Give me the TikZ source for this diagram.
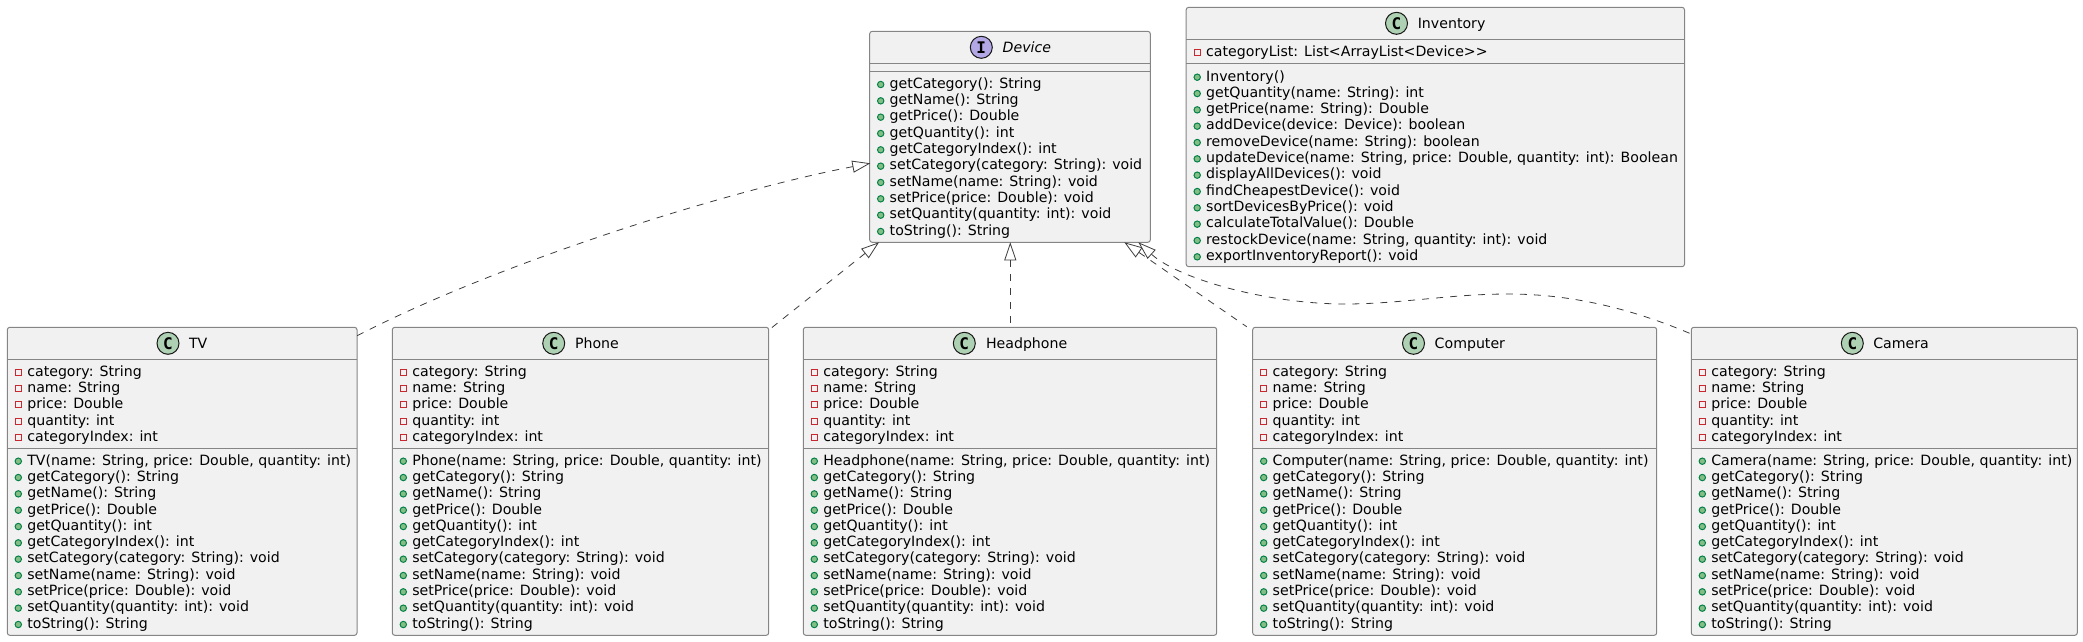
\documentclass[tikz,border=0pt]{standalone}
\usepackage{fontspec}
\setmainfont{DejaVu Sans}
\setmonofont{DejaVu Sans Mono}
\usetikzlibrary{arrows.meta}
\definecolor{boxfill}{HTML}{F1F1F1}
\definecolor{ink}{HTML}{181818}
\definecolor{rule}{HTML}{858585}
\definecolor{edge}{HTML}{3C3C3C}
\definecolor{pubfill}{HTML}{84BE84}
\definecolor{publine}{HTML}{038048}
\definecolor{privline}{HTML}{C82930}
\definecolor{spotC}{HTML}{ADD1B2}
\definecolor{spotI}{HTML}{B4A7E5}
\tikzset{
  classbox/.style={draw=rule,line width=1pt,fill=boxfill,rounded corners=2.5pt,anchor=north west,inner sep=0pt,outer sep=0pt},
  divider/.style={draw=rule,line width=1pt},
  membertext/.style={anchor=base west,inner sep=0pt,outer sep=0pt,font=\fontsize{14.15}{16}\selectfont,text=black},
  titletext/.style={membertext},
  pubmark/.style={circle,draw=publine,fill=pubfill,line width=1pt,minimum size=6.4pt,inner sep=0pt},
  privmark/.style={rectangle,draw=privline,fill=none,line width=1pt,minimum size=6pt,inner sep=0pt},
  spotnode/.style={circle,draw=ink,line width=1pt,minimum size=22pt,inner sep=0pt,font=\fontsize{16}{16}\ttfamily\bfseries\selectfont,text=black},
  realize/.style={draw=edge,line width=0.8pt,dash pattern=on 7pt off 7pt,
    {Triangle[open,length=18pt,width=12pt,fill=white,line width=0.8pt,sep=0pt]}-},
}
\newcommand{\memberlist}[5]{%
  \foreach \txt [count=\n from 0] in #5 {
    \pgfmathsetmacro\yy{#3+16.33*\n}
    \node[membertext] (#1-\n) at (#2+20,\yy) {\txt};
    \node[#4] (#1-mark-\n) at (#2+11,\yy-3.8) {};
  }%
}
\newcommand{\umlclass}[8]{% name, left, right, top, bottom, spotx, titlex, title
  \node[classbox,minimum width=#3pt-#2pt,minimum height=#5pt-#4pt] (#1) at (#2,#4) {};
  \node[spotnode,fill=spotC] (#1-spot) at (#6,#4+16) {C};
  \node[titletext] (#1-title) at (#7,#4+21) {#8};
}
\newcommand{\rowline}[2]{\draw[divider] (#1.west |- 0,#2) -- (#1.east |- 0,#2);}
\newcommand{\deviceclass}[6]{% name,left,right,spotx,titlex,title
  \umlclass{#1}{#2}{#3}{327.3}{635.3}{#4}{#5}{#6}
  \rowline{#1}{359.3}
  \rowline{#1}{448.3}
  \memberlist{#1-f}{#2}{376}{privmark}{{category: String,name: String,price: Double,quantity: int,categoryIndex: int}}
  \memberlist{#1-m}{#2}{465}{pubmark}{{{#6(name: String, price: Double, quantity: int)},getCategory(): String,getName(): String,getPrice(): Double,getQuantity(): int,getCategoryIndex(): int,{setCategory(category: String): void},{setName(name: String): void},{setPrice(price: Double): void},{setQuantity(quantity: int): void},toString(): String}}
}
\begin{document}
\begin{tikzpicture}[x=1pt,y=-1pt]
\useasboundingbox (0,0) rectangle (2083,641);
% Device interface
\node[classbox,minimum width=280.6pt,minimum height=211pt] (device) at (869.7,31.3) {};
\node[spotnode,fill=spotI] (device-spot) at (981.3,47.3) {I};
\node[titletext] (device-title) at (1002.7,52.3) {\itshape Device};
\rowline{device}{63.3}
\rowline{device}{71.3}
\memberlist{device-m}{869.7}{88.3}{pubmark}{{getCategory(): String,getName(): String,getPrice(): Double,getQuantity(): int,getCategoryIndex(): int,{setCategory(category: String): void},{setName(name: String): void},{setPrice(price: Double): void},{setQuantity(quantity: int): void},toString(): String}}
% Inventory
\umlclass{inventory}{1186.2}{1684.5}{7.3}{266.7}{1396.5}{1417.8}{Inventory}
\rowline{inventory}{39.3}
\rowline{inventory}{63.3}
\memberlist{inventory-f}{1186.2}{56}{privmark}{{categoryList: List<ArrayList<Device>{}>}}
\memberlist{inventory-m}{1186.2}{81}{pubmark}{{Inventory(),{getQuantity(name: String): int},{getPrice(name: String): Double},{addDevice(device: Device): boolean},{removeDevice(name: String): boolean},{updateDevice(name: String, price: Double, quantity: int): Boolean},displayAllDevices(): void,findCheapestDevice(): void,sortDevicesByPrice(): void,calculateTotalValue(): Double,{restockDevice(name: String, quantity: int): void},exportInventoryReport(): void}}
% Concrete classes
\deviceclass{tv}{7.3}{357}{168}{189}{TV}
\deviceclass{phone}{392.3}{768.7}{553.7}{575}{Phone}
\deviceclass{headphone}{803.3}{1216.7}{964.3}{986}{Headphone}
\deviceclass{computer}{1252.7}{1656.7}{1413.5}{1434.7}{Computer}
\deviceclass{camera}{1691.3}{2077.3}{1852.3}{1873.3}{Camera}
% Realization arrows
\draw[realize] ([shift={(0.6,132)}]device.north west) .. controls (730,190) and (500,262) .. ([shift={(0.2,8.4)}]tv.north east);
\draw[realize] ([shift={(9.3,0)}]device.south west) -- ([shift={(3,0.4)}]phone.north east);
\draw[realize] ([shift={(140.6,0)}]device.south west) -- ([shift={(207,-3.3)}]headphone.north west);
\draw[realize] ([shift={(254.6,0)}]device.south west) -- ([shift={(-6,-0.6)}]computer.north west);
\draw[realize] ([shift={(268.6,0)}]device.south west) .. controls (1180,280) and (1270,304) .. (1345,304) .. controls (1400,304) and (1450,294) .. (1508,294) .. controls (1570,294) and (1630,308) .. ([shift={(0,6.7)}]camera.north west);
\end{tikzpicture}
\end{document}
